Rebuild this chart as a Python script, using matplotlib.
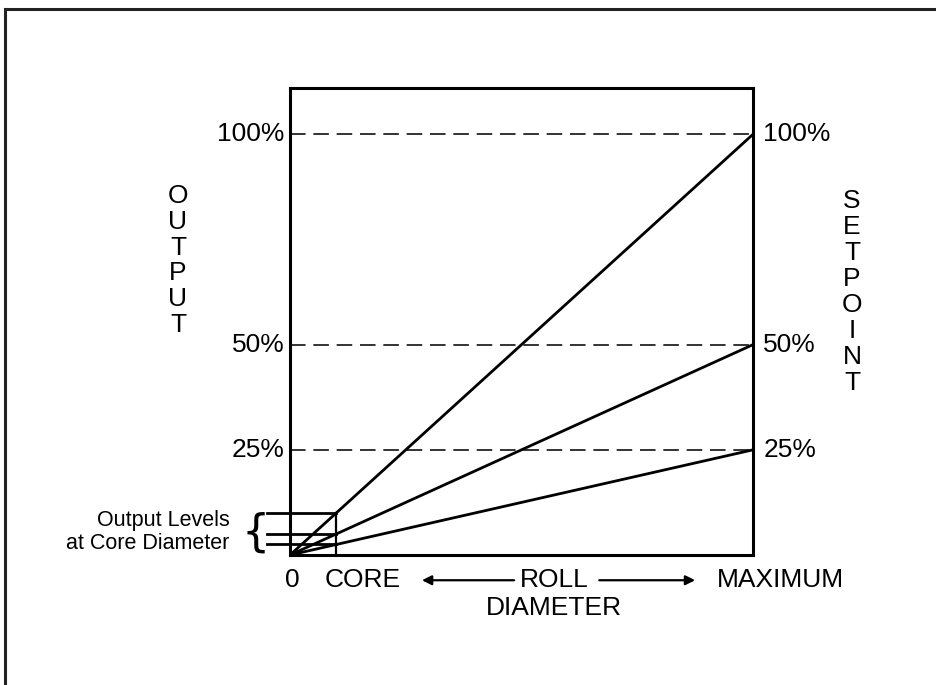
import matplotlib
matplotlib.use("Agg")
import matplotlib.pyplot as plt
from matplotlib.patches import Rectangle

plt.rcParams['font.family'] = ['Liberation Sans', 'DejaVu Sans']

# === Data ===
setpoints = [100, 50, 25]          # % setpoint at maximum diameter
setpoint_labels = ["100%", "50%", "25%"]
core_frac = 0.1                    # core diameter as fraction of maximum
diam = [0.0, 1.0]                  # 0 -> maximum roll diameter
core_outputs = [sp * core_frac for sp in setpoints]

FS = 19

# === Figure ===
fig = plt.figure(figsize=(9.36, 6.85), dpi=100)
ax = fig.add_axes([290 / 936, 1 - 555 / 685, 463 / 936, 467 / 685])
ax.set_xlim(0, 1)
ax.set_ylim(0, 111)
ax.set_xticks([])
ax.set_yticks([])
for s in ax.spines.values():
    s.set_linewidth(2.2)

# outer frame (runs off the right and bottom edges)
fig.patches.append(Rectangle((5 / 936, -0.1), 1.2, 1 - 9 / 685 + 0.1,
                             transform=fig.transFigure, fill=False,
                             lw=2.2, ec="#222222"))

# dashed setpoint levels
for sp in setpoints:
    ax.axhline(sp, color="#333333", lw=1.4, dashes=(8, 4))

# output lines from origin
for sp in setpoints:
    ax.plot(diam, [0, sp], color="black", lw=2.0, solid_capstyle="butt")

# core box / output levels at core diameter
for co in core_outputs:
    ax.plot([-0.05, core_frac], [co, co], color="black", lw=2.0, clip_on=False)
ax.plot([core_frac, core_frac], [0, max(core_outputs)], color="black", lw=1.6)

# labels left / right
for sp, lab in zip(setpoints, setpoint_labels):
    ax.text(-0.012, sp, lab, ha="right", va="center", fontsize=FS)
    ax.text(1.022, sp, lab, ha="left", va="center", fontsize=FS)

ax.text(-0.242, 70, "\n".join("OUTPUT"), ha="center", va="center",
        fontsize=FS, linespacing=1.1)
ax.text(1.214, 62.5, "\n".join("SETPOINT"), ha="center", va="center",
        fontsize=FS, linespacing=1.1)

ax.text(-0.13, 5.4, "Output Levels\nat Core Diameter", ha="right", va="center",
        fontsize=15.5, multialignment="right", linespacing=1.1)
ax.text(-0.075, 5.2, "{", ha="center", va="center", fontsize=32,
        family="DejaVu Sans")

# bottom axis labels
ax.text(0.006, -6, "0", ha="center", va="center", fontsize=FS)
ax.text(0.156, -6, "CORE", ha="center", va="center", fontsize=FS)
ax.text(0.57, -6, "ROLL", ha="center", va="center", fontsize=FS)
ax.text(0.57, -12.6, "DIAMETER", ha="center", va="center", fontsize=FS)
ax.text(1.06, -6, "MAXIMUM", ha="center", va="center", fontsize=FS)

ax.annotate("", xy=(0.285, -6), xytext=(0.484, -6),
            arrowprops=dict(arrowstyle="-|>", color="black", lw=1.6,
                            mutation_scale=14, shrinkA=0, shrinkB=0),
            annotation_clip=False)
ax.annotate("", xy=(0.875, -6), xytext=(0.668, -6),
            arrowprops=dict(arrowstyle="-|>", color="black", lw=1.6,
                            mutation_scale=14, shrinkA=0, shrinkB=0),
            annotation_clip=False)

fig.savefig("out.png", dpi=100)
